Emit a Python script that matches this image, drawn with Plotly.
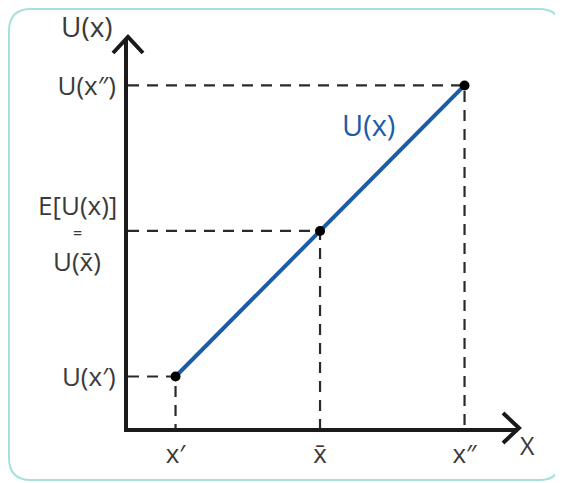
import plotly.graph_objects as go

# ---- data ----
x_labels = ["x′", "x̄", "x″"]
x_vals = [1, 2, 3]
u_vals = [1, 2, 3]
u_labels = ["U(x′)", "", "U(x″)"]
mid_lines = ["E[U(x)]", "=", "U(x̄)"]
curve_label = "U(x)"
y_title = "U(x)"
x_title = "X"

# ---- layout geometry (screen px; page has 8px body margin) ----
OFF = 8
W, H = 555, 475
L, T, Rm, Bm = 120, 30, 45, 55
PW, PH = W - L - Rm, H - T - Bm
x_range = [0.671, 3.370]
y_range = [0.646, 3.326]

def px(xs):
    return (xs - OFF - L) / PW

def py(ys):
    return (H - Bm - (ys - OFF)) / PH

FONT = "Open Sans, Noto Sans, sans-serif"
BLUE = "#1c5ca6"
TXT = "#3a3a3a"
fig = go.Figure()

# dashed guide lines
for xv, uv in zip(x_vals, u_vals):
    fig.add_trace(go.Scatter(
        x=[x_range[0], xv, xv], y=[uv, uv, y_range[0]],
        mode="lines", line=dict(color="#2a2a2a", width=2.2, dash="11px,8px"),
        hoverinfo="skip", showlegend=False, cliponaxis=False))

# main line
fig.add_trace(go.Scatter(x=[x_vals[0], x_vals[-1]], y=[u_vals[0], u_vals[-1]],
                         mode="lines", line=dict(color=BLUE, width=4),
                         showlegend=False, hoverinfo="skip"))
# points
fig.add_trace(go.Scatter(x=x_vals, y=u_vals, mode="markers",
                         marker=dict(color="black", size=10),
                         showlegend=False, cliponaxis=False))

shapes = []
# rounded border
x0, y0, x1, y1, r = 9, 9, 561, 480, 22
pth = (f"M {px(x0+r)},{py(y0)} L {px(x1-r)},{py(y0)} Q {px(x1)},{py(y0)} {px(x1)},{py(y0+r)} "
       f"L {px(x1)},{py(y1-r)} Q {px(x1)},{py(y1)} {px(x1-r)},{py(y1)} "
       f"L {px(x0+r)},{py(y1)} Q {px(x0)},{py(y1)} {px(x0)},{py(y1-r)} "
       f"L {px(x0)},{py(y0+r)} Q {px(x0)},{py(y0)} {px(x0+r)},{py(y0)} Z")
shapes.append(dict(type="path", xref="paper", yref="paper", path=pth,
                   line=dict(color="#a6e0da", width=2), layer="below"))
# arrowheads
shapes.append(dict(type="path", xref="paper", yref="paper",
                   path=f"M {px(113)},{py(53)} L {px(128)},{py(37)} L {px(143)},{py(53)}",
                   line=dict(color="#1a1a1a", width=4)))
shapes.append(dict(type="path", xref="paper", yref="paper",
                   path=f"M {px(503)},{py(413)} L {px(519)},{py(428)} L {px(503)},{py(443)}",
                   line=dict(color="#1a1a1a", width=4)))

def ann(text, xs, ys, size, color=TXT):
    return dict(x=px(xs), y=py(ys), xref="paper", yref="paper", text=text,
                showarrow=False, xanchor="center", yanchor="middle", borderpad=0,
                font=dict(size=size, color=color, family=FONT))

annotations = []
for txt, ys, sz in zip(mid_lines, [205, 233, 261], [26, 16, 26]):
    annotations.append(ann(txt, 77, ys, sz))
annotations += [
    ann(curve_label, 368, 124, 29, BLUE),
    ann(y_title, 87, 26, 28),
    ann(x_title, 527, 445, 25),
]

fig.update_layout(
    width=W, height=H, margin=dict(l=L, r=Rm, t=T, b=Bm),
    paper_bgcolor="white", plot_bgcolor="white",
    shapes=shapes, annotations=annotations, showlegend=False,
    font=dict(family=FONT, color=TXT, size=26),
    xaxis=dict(range=x_range, tickvals=x_vals, ticktext=x_labels, showgrid=False,
               zeroline=False, showline=True, linecolor="#1a1a1a", linewidth=4,
               ticks="", fixedrange=True, tickfont=dict(size=26, color=TXT)),
    yaxis=dict(range=y_range, tickvals=x_vals, ticktext=u_labels, showgrid=False,
               zeroline=False, showline=True, linecolor="#1a1a1a", linewidth=4,
               ticks="", fixedrange=True, tickfont=dict(size=26, color=TXT),
               ticklabelstandoff=3),
)
fig.write_html("out.html")
